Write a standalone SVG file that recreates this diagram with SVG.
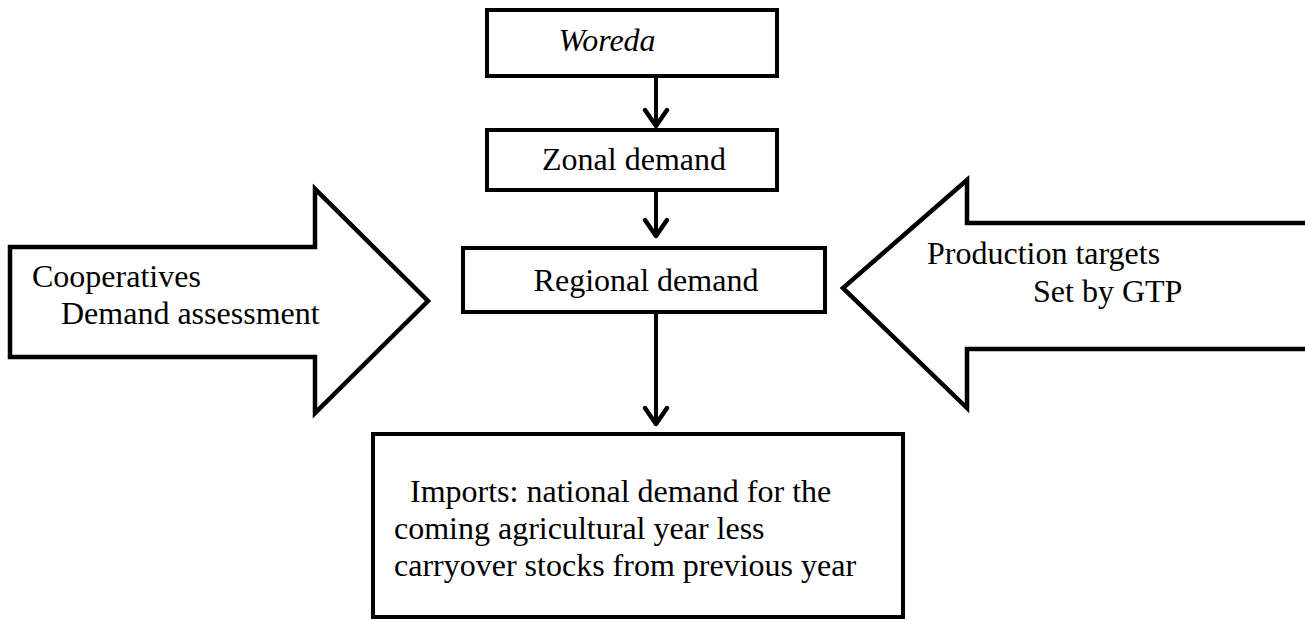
<svg xmlns="http://www.w3.org/2000/svg" width="1305" height="622" viewBox="0 0 1305 622">
<defs>
<style>
.box{fill:#fff;stroke:#000;stroke-width:4}
.big{fill:#fff;stroke:#000;stroke-width:4.5;stroke-linejoin:miter}
.t{font-family:"Liberation Serif","Times New Roman",serif;font-size:32px;fill:#000}
.ln{stroke:#000;stroke-width:4;fill:none}
.hd{stroke:#000;stroke-width:4.5;fill:none;stroke-linecap:round;stroke-linejoin:round}
</style>
</defs>
<rect width="1305" height="622" fill="#fff"/>
<g id="coop">
<polygon class="big" points="10,247 315,247 315,189 428,301 315,413 315,357 10,357"/>
<text class="t" x="32" y="287">Cooperatives</text>
<text class="t" x="61" y="324">Demand assessment</text>
</g>
<g id="gtp">
<polygon class="big" points="1312,223 967,223 967,180 843,288 967,408 967,349 1312,349"/>
<text class="t" x="927" y="264">Production targets</text>
<text class="t" x="1033" y="302">Set by GTP</text>
</g>
<g id="woreda">
<rect class="box" x="487" y="10" width="290" height="66"/>
<text class="t" x="607" y="51" text-anchor="middle" font-style="italic">Woreda</text>
</g>
<g id="zonal">
<rect class="box" x="487" y="130" width="290" height="60"/>
<text class="t" x="634" y="170" text-anchor="middle">Zonal demand</text>
</g>
<g id="regional">
<rect class="box" x="463" y="248" width="362" height="64"/>
<text class="t" x="646" y="291" text-anchor="middle">Regional demand</text>
</g>
<g id="imports">
<rect class="box" x="373" y="434" width="530" height="183"/>
<text class="t" x="410" y="502">Imports: national demand for the</text>
<text class="t" x="394" y="539">coming agricultural year less</text>
<text class="t" x="394" y="576">carryover stocks from previous year</text>
</g>
<g id="connectors">
<line class="ln" x1="656" y1="76" x2="656" y2="126"/>
<polyline class="hd" points="645,110 656,126 667,110"/>
<line class="ln" x1="656" y1="190" x2="656" y2="236"/>
<polyline class="hd" points="645,220 656,236 667,220"/>
<line class="ln" x1="656" y1="312" x2="656" y2="424"/>
<polyline class="hd" points="645,408 656,424 667,408"/>
</g>
</svg>
